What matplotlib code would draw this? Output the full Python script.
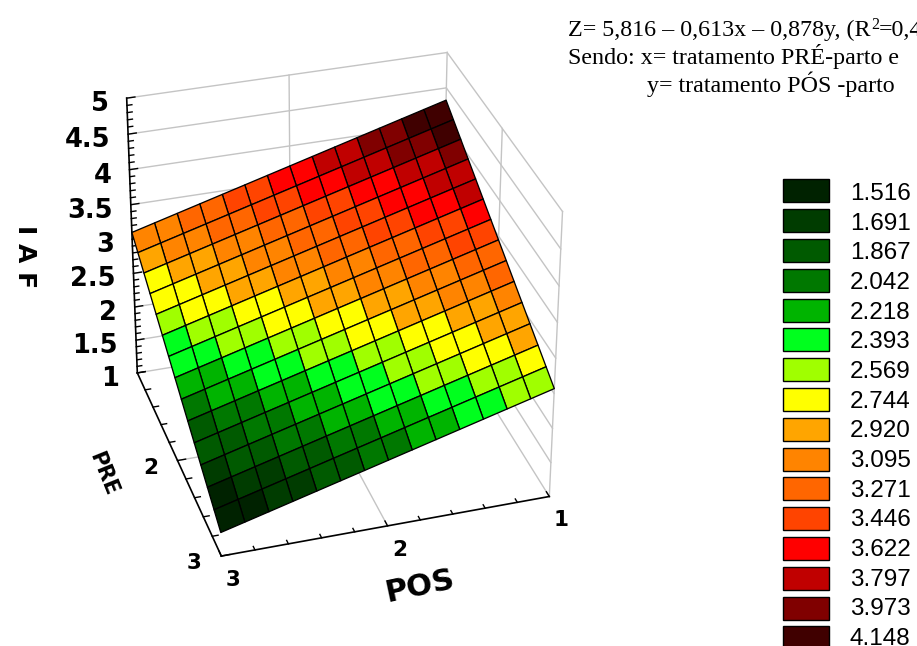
import numpy as np
import matplotlib
matplotlib.use("Agg")
import matplotlib.pyplot as plt
from matplotlib.patches import Rectangle
from mpl_toolkits.mplot3d import proj3d

W, H = 917, 646

# Surface: IAF at each grid vertex
pos_values = [1, 8/7, 9/7, 10/7, 11/7, 12/7, 13/7, 2, 15/7, 16/7, 17/7, 18/7, 19/7, 20/7, 3]
pre_values = [1, 8/7, 9/7, 10/7, 11/7, 12/7, 13/7, 2, 15/7, 16/7, 17/7, 18/7, 19/7, 20/7, 3]
iaf_values = [
 [4.3250,4.2374,4.1499,4.0623,3.9747,3.8871,3.7996,3.7120,3.6244,3.5369,3.4493,3.3617,3.2741,3.1866,3.0990],
 [4.1996,4.1120,4.0245,3.9369,3.8493,3.7617,3.6742,3.5866,3.4990,3.4115,3.3239,3.2363,3.1487,3.0612,2.9736],
 [4.0741,3.9865,3.8990,3.8114,3.7238,3.6362,3.5487,3.4611,3.3735,3.2860,3.1984,3.1108,3.0232,2.9357,2.8481],
 [3.9487,3.8611,3.7736,3.6860,3.5984,3.5108,3.4233,3.3357,3.2481,3.1606,3.0730,2.9854,2.8978,2.8103,2.7227],
 [3.8233,3.7357,3.6482,3.5606,3.4730,3.3854,3.2979,3.2103,3.1227,3.0352,2.9476,2.8600,2.7724,2.6849,2.5973],
 [3.6979,3.6103,3.5228,3.4352,3.3476,3.2600,3.1725,3.0849,2.9973,2.9098,2.8222,2.7346,2.6470,2.5595,2.4719],
 [3.5724,3.4848,3.3973,3.3097,3.2221,3.1345,3.0470,2.9594,2.8718,2.7843,2.6967,2.6091,2.5215,2.4340,2.3464],
 [3.4470,3.3594,3.2719,3.1843,3.0967,3.0091,2.9216,2.8340,2.7464,2.6589,2.5713,2.4837,2.3961,2.3086,2.2210],
 [3.3216,3.2340,3.1465,3.0589,2.9713,2.8837,2.7962,2.7086,2.6210,2.5335,2.4459,2.3583,2.2707,2.1832,2.0956],
 [3.1961,3.1085,3.0210,2.9334,2.8458,2.7582,2.6707,2.5831,2.4955,2.4080,2.3204,2.2328,2.1452,2.0577,1.9701],
 [3.0707,2.9831,2.8956,2.8080,2.7204,2.6328,2.5453,2.4577,2.3701,2.2826,2.1950,2.1074,2.0198,1.9323,1.8447],
 [2.9453,2.8577,2.7702,2.6826,2.5950,2.5074,2.4199,2.3323,2.2447,2.1572,2.0696,1.9820,1.8944,1.8069,1.7193],
 [2.8199,2.7323,2.6448,2.5572,2.4696,2.3820,2.2945,2.2069,2.1193,2.0318,1.9442,1.8566,1.7690,1.6815,1.5939],
 [2.6944,2.6068,2.5193,2.4317,2.3441,2.2565,2.1690,2.0814,1.9938,1.9063,1.8187,1.7311,1.6435,1.5560,1.4684],
 [2.5690,2.4814,2.3939,2.3063,2.2187,2.1311,2.0436,1.9560,1.8684,1.7809,1.6933,1.6057,1.5181,1.4306,1.3430],
]
levels = [1.516, 1.691, 1.867, 2.042, 2.218, 2.393, 2.569, 2.744,
          2.920, 3.095, 3.271, 3.446, 3.622, 3.797, 3.973, 4.148]
level_colors = ['#002200', '#003C00', '#005A00', '#007800', '#00B400', '#00FF1E',
                '#A0FF00', '#FFFF00', '#FFA500', '#FF8400', '#FF6600', '#FF4400',
                '#FF0000', '#C00000', '#800000', '#400000']
z_ticks = [1, 1.5, 2, 2.5, 3, 3.5, 4, 4.5, 5]
z_tick_labels = ['1', '1.5', '2', '2.5', '3', '3.5', '4', '4.5', '5']
pre_ticks = [2, 3]
pos_ticks = [1, 2, 3]
note_parts = ['Z= 5,816 – 0,613x – 0,878y, (R', '2', '=0,4']
note_lines = ['Sendo: x= tratamento PRÉ-parto e', 'y= tratamento PÓS -parto']

TICK_BOLD = dict(family='DejaVu Sans', fontweight='bold', color='black')

fig = plt.figure(figsize=(W / 100, H / 100), dpi=100, facecolor='white')
S = 600
ax = fig.add_axes([29.44 / W, 40.99 / H, S / W, S / H], projection='3d', computed_zorder=False)
ax.set_facecolor('none')
ax.set_xlim(1, 3, view_margin=0)
ax.set_ylim(1, 3, view_margin=0)
ax.set_zlim(1, 5, view_margin=0)
ax.view_init(32.0408, 72.8552, -0.1148)
ax.set_proj_type('persp', focal_length=float(np.exp(-0.0379)))
ax.set_box_aspect((1.0, 0.9943, 0.9727), zoom=0.9399)
ax.set_axis_off()

GRID = dict(color='#C4C4C4', lw=1.0, zorder=1)
AXIS = dict(color='black', lw=1.2, zorder=2)
TICK = dict(color='black', lw=1.0, zorder=2)

# walls and floor
for z in z_ticks:
    ax.plot([3, 1], [1, 1], [z, z], **GRID)
    ax.plot([1, 1], [1, 3], [z, z], **GRID)
ax.plot([2, 2], [1, 1], [1, 5], **GRID)
ax.plot([1, 1], [1, 1], [1, 5], **GRID)
ax.plot([1, 1], [2, 2], [1, 5], **GRID)
ax.plot([1, 1], [3, 3], [1, 5], **GRID)
ax.plot([2, 2], [1, 3], [1, 1], **GRID)
ax.plot([3, 1], [2, 2], [1, 1], **GRID)

# black axes with their ticks
ax.plot([3, 3], [1, 1], [1, 5], **AXIS)
ax.plot([3, 3], [1, 3], [1, 1], **AXIS)
ax.plot([3, 1], [3, 3], [1, 1], **AXIS)
for k in range(41):
    z = 1 + k * 0.1
    ax.plot([3, 3 - (0.05 if k % 5 == 0 else 0.03)], [1, 1], [z, z], **TICK)
for k in range(11):
    t = 1 + k * 0.2
    ln = 0.05 if k % 5 == 0 else 0.035
    ax.plot([3, 3 - ln], [t, t], [1, 1], **TICK)
    ax.plot([t, t], [3, 3 - ln], [1, 1], **TICK)

# surface: each cell takes the legend band of its lowest corner
BAND_SHIFT = 0.018
X, Y = np.meshgrid(pos_values, pre_values)
Z = np.array(iaf_values)
idx = np.clip(np.searchsorted(levels, Z[1:, 1:] + BAND_SHIFT), 0, len(levels) - 1)
face = np.array([matplotlib.colors.to_rgba(level_colors[i]) for i in idx.ravel()]).reshape(idx.shape + (4,))
ax.plot_surface(X, Y, Z, rstride=1, cstride=1, facecolors=face, shade=False,
                edgecolor='black', linewidth=0.95, antialiased=True, zorder=3)

# tick labels, offset in pixels from the tick they belong to
M = ax.get_proj()
def tick_label(text, x, y, z, dx, dy, ha, size):
    xd, yd, _ = proj3d.proj_transform(x, y, z, M)
    ax.annotate(text, xy=(xd, yd), xycoords='data', xytext=(dx, dy), textcoords='offset pixels',
                ha=ha, va='center', fontsize=size, annotation_clip=False, **TICK_BOLD)

for z, lab in zip(z_ticks, z_tick_labels):
    tick_label(lab, 3, 1, z, -18, -6, 'right', 18.5)
for t in pre_ticks:
    tick_label(str(t), 3, t, 1, -27, -7, 'center', 15.5)
for t in pos_ticks:
    tick_label(str(t), t, 3, 1, 12, -24, 'center', 15.5)

# overlay in image pixels: titles, note, legend
ov = fig.add_axes([0, 0, 1, 1], zorder=5)
ov.set_xlim(0, W)
ov.set_ylim(H, 0)
ov.axis('off')
ov.patch.set_alpha(0)
ov.text(25, 257, 'I A F', rotation=-90, ha='center', va='center', fontsize=18, **TICK_BOLD)
ov.text(103, 474, 'PRE', rotation=-68, ha='center', va='center', fontsize=15, **TICK_BOLD)
ov.text(420, 586, 'POS', rotation=12, ha='center', va='center', fontsize=22, **TICK_BOLD)

SERIF = dict(family='Liberation Serif', fontsize=17.3, va='baseline', color='black')
renderer = fig.canvas.get_renderer()
t0 = ov.text(568, 36, note_parts[0], **SERIF)
x1 = t0.get_window_extent(renderer).x1 + 0.5
ov.text(x1, 29, note_parts[1], family='Liberation Serif', fontsize=11.5, va='baseline', color='black')
ov.text(x1 + 8, 36, note_parts[2], **SERIF)
ov.text(568, 64, note_lines[0], **SERIF)
ov.text(647, 92, note_lines[1], **SERIF)

for i, (lv, col) in enumerate(zip(levels, level_colors)):
    y = 179.3 + 29.8 * i
    ov.add_patch(Rectangle((783, y), 46, 23, facecolor=col, edgecolor='black', lw=1.0, clip_on=True))
    ov.text(850, 200.0 + 29.67 * i, f'{lv:.3f}', family='Liberation Sans', fontsize=17.5, ha='left',
            va='baseline', color='black')

fig.savefig('out.png', dpi=100)
